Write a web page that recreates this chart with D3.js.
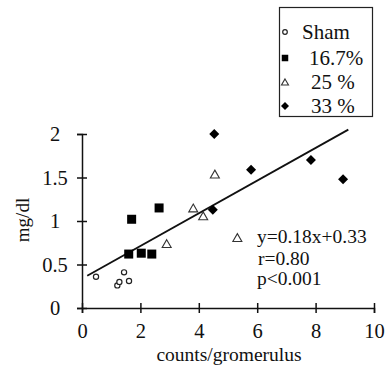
<!DOCTYPE html>
<html><head><meta charset="utf-8">
<script src="https://cdn.jsdelivr.net/npm/d3@7"></script>
<style>
body{margin:0;background:#fff;}
</style></head>
<body><svg id="c" width="390" height="365"></svg>
<script>
// Data
const shamX = [0.48, 1.21, 1.28, 1.44, 1.61];
const shamY = [0.36, 0.26, 0.30, 0.41, 0.31];
const g167X = [1.60, 1.70, 2.03, 2.39, 2.64];
const g167Y = [0.62, 1.02, 0.63, 0.62, 1.15];
const g25X = [2.90, 3.81, 4.15, 4.55, 5.32];
const g25Y = [0.74, 1.15, 1.06, 1.54, 0.81];
const g33X = [4.53, 4.48, 5.79, 7.84, 8.94];
const g33Y = [2.00, 1.13, 1.59, 1.70, 1.48];
const fitX = [0.18, 9.12];
const fitY = [0.37, 2.05];
const xTicks = [0, 2, 4, 6, 8, 10];
const yTicks = [0, 0.5, 1, 1.5, 2];
const yTickLabels = ["0", "0.5", "1", "1.5", "2"];
const legendLabels = ["Sham", "16.7%", "25 %", "33 %"];
const statsLines = ["y=0.18x+0.33", "r=0.80", "p<0.001"];
const xTitle = "counts/gromerulus";
const yTitle = "mg/dl";

const FONT = "'Liberation Serif', serif";
const svg = d3.select("#c");
const x = d3.scaleLinear().domain([0, 10]).range([82, 374]);
const y = d3.scaleLinear().domain([0, 2]).range([308, 134]);

function txt(sel, size) {
  return sel.attr("font-family", null).style("font-family", FONT).style("font-size", size + "px").attr("fill", "#111");
}

// X axis
const gx = svg.append("g").attr("transform", "translate(0,308)")
  .call(d3.axisBottom(x).tickValues(xTicks).tickFormat(d3.format("d")).tickSizeOuter(0).tickSize(5));
gx.attr("font-family", null);
gx.select(".domain").attr("stroke", "#111").attr("stroke-width", 1.5);
gx.selectAll(".tick line").attr("y1", -5).attr("y2", 5).attr("stroke", "#111").attr("stroke-width", 1.5);
txt(gx.selectAll(".tick text").attr("y", 30).attr("dy", 0), 20.5);

// Y axis
const gy = svg.append("g").attr("transform", "translate(82,0)")
  .call(d3.axisLeft(y).tickValues(yTicks).tickFormat((d, i) => yTickLabels[i]).tickSizeOuter(0).tickSize(5));
gy.attr("font-family", null);
gy.select(".domain").attr("stroke", "#111").attr("stroke-width", 1.5);
gy.selectAll(".tick line").attr("x1", -5).attr("x2", 5).attr("stroke", "#111").attr("stroke-width", 1.5);
txt(gy.selectAll(".tick text").attr("x", -27).attr("text-anchor", "middle").attr("dy", "0.33em"), 20.5);

// Titles
txt(svg.append("text").attr("x", 229).attr("y", 360.5).attr("text-anchor", "middle"), 19.5).text(xTitle);
txt(svg.append("text").attr("transform", "translate(29,220) rotate(-90)").attr("text-anchor", "middle"), 19).text(yTitle);

// Fit line
svg.append("line")
  .attr("x1", x(fitX[0])).attr("y1", y(fitY[0]))
  .attr("x2", x(fitX[1])).attr("y2", y(fitY[1]))
  .attr("stroke", "#111").attr("stroke-width", 1.8);

// Marker helpers
function drawMarkers(xs, ys, type, size) {
  const g = svg.append("g");
  xs.forEach((v, i) => drawOne(g, x(v), y(ys[i]), type, size));
}
function drawOne(g, cx, cy, type, s) {
  if (type === "circle") {
    g.append("circle").attr("cx", cx).attr("cy", cy).attr("r", s)
      .attr("fill", "#fff").attr("stroke", "#222").attr("stroke-width", 1.2);
  } else if (type === "square") {
    g.append("rect").attr("x", cx - s / 2).attr("y", cy - s / 2).attr("width", s).attr("height", s).attr("fill", "#000");
  } else if (type === "triangle") {
    const h = s * 0.87;
    g.append("path").attr("d", `M${cx},${cy - h / 2}L${cx + s / 2},${cy + h / 2}L${cx - s / 2},${cy + h / 2}Z`)
      .attr("fill", "#fff").attr("stroke", "#333").attr("stroke-width", 1.1);
  } else {
    g.append("path").attr("d", `M${cx},${cy - s / 2}L${cx + s / 2},${cy}L${cx},${cy + s / 2}L${cx - s / 2},${cy}Z`)
      .attr("fill", "#000");
  }
}
drawMarkers(shamX, shamY, "circle", 2.6);
drawMarkers(g167X, g167Y, "square", 9);
drawMarkers(g25X, g25Y, "triangle", 9);
drawMarkers(g33X, g33Y, "diamond", 10);

// Stats text
const statsPos = [[257, 243], [258, 265], [257, 285]];
statsLines.forEach((t, i) => {
  txt(svg.append("text").attr("x", statsPos[i][0]).attr("y", statsPos[i][1]), 19.5).text(t);
});

// Legend
svg.append("rect").attr("x", 279.5).attr("y", 7.5).attr("width", 93).attr("height", 109)
  .attr("fill", "#fff").attr("stroke", "#222").attr("stroke-width", 1.2);
const legTypes = ["circle", "square", "triangle", "diamond"];
const legSizes = [2.3, 6.5, 7, 8];
const legRows = [32, 58, 82, 106];
const legTextX = [302, 309, 311, 311];
legendLabels.forEach((lab, i) => {
  drawOne(svg, 285, legRows[i], legTypes[i], legSizes[i]);
  txt(svg.append("text").attr("x", legTextX[i]).attr("y", legRows[i]).attr("dy", "0.35em"), 21).text(lab);
});
</script></body></html>
